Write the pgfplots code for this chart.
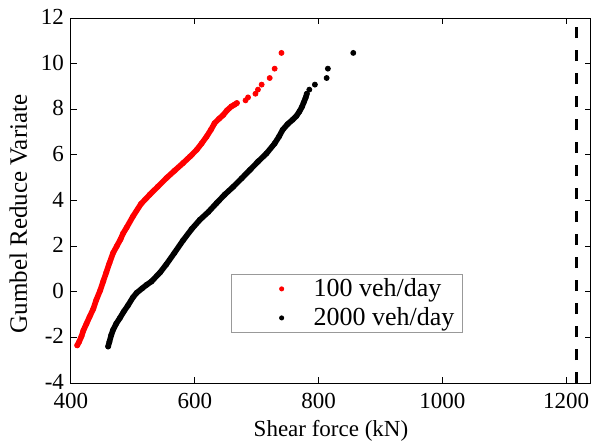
\documentclass[border=0pt]{standalone}
\usepackage{pgfplots}
\pgfplotsset{compat=1.18}
\usepackage{pgfplotstable}
\usepackage{fontspec}
\setmainfont{Liberation Serif}

% 100 veh/day, dense part of the curve
\pgfplotstableread{
x y
410 -2.35
413 -2.2
417 -1.95
420 -1.7
425 -1.4
430 -1.1
436 -0.75
441 -0.35
447 0.05
452 0.45
457 0.85
462 1.25
468 1.7
474 2.0
480 2.3
484 2.55
490 2.82
500 3.3
513 3.85
527 4.25
540 4.6
554 4.98
567 5.3
581 5.64
592 5.92
603 6.22
611 6.5
619 6.8
626 7.1
632 7.39
639 7.58
646 7.75
652 7.95
659 8.12
664 8.2
668 8.27
}\reddense
% 100 veh/day, isolated top points
\pgfplotstableread{
x y
682 8.39
686 8.52
698 8.68
702 8.86
708 9.08
721 9.37
729 9.78
740 10.47
}\redtail
% 2000 veh/day, dense part
\pgfplotstableread{
x y
460 -2.4
462 -2.2
465 -1.9
468 -1.67
473 -1.4
479 -1.15
485 -0.88
492 -0.6
500 -0.25
506 -0.05
515 0.15
522 0.3
530 0.45
544 0.85
554 1.2
567 1.7
581 2.25
595 2.75
608 3.15
622 3.5
635 3.88
648 4.25
662 4.6
676 4.98
689 5.34
702 5.7
716 6.07
729 6.5
736 6.8
742 7.1
750 7.35
758 7.54
764 7.7
769 7.9
773 8.1
776 8.3
779 8.5
781 8.68
}\blackdense
\pgfplotstableread{
x y
785 8.86
794 9.08
813 9.37
815 9.78
856 10.47
}\blacktail

\begin{document}
\begin{tikzpicture}
\begin{axis}[
  at={(0,0)}, anchor=south west,
  scale only axis, width=260pt, height=182.5pt,
  xmin=400, xmax=1240, ymin=-4, ymax=12,
  xtick={400,600,800,1000,1200}, ytick={-4,-2,0,2,4,6,8,10,12},
  tick align=inside, major tick length=3pt,
  tick style={black, line width=0.5pt},
  axis line style={line width=0.5pt},
  font=\fontsize{11.5}{13}\selectfont,
  /pgf/number format/1000 sep={},
  /pgf/number format/assume math mode=true,
  xticklabel style={yshift=-1.5pt},
  yticklabel style={yshift=0.5pt},
  xlabel={Shear force (kN)}, ylabel={Gumbel Reduce Variate},
  xlabel style={yshift=1pt},
  ylabel style={font=\fontsize{12.5}{14}\selectfont, at={(ticklabel cs:0.463)}},
  legend cell align=left,
  legend style={at={(0.308,0.299)}, anchor=north west, draw=gray!80,
    line width=0.5pt, fill=white, font=\fontsize{13}{15}\selectfont,
    inner xsep=2pt, inner ysep=0pt},
  legend image code/.code={%
    \path[draw=none, fill=none] (0pt,0pt) (37pt,0pt);
    \draw[#1, mark size=1pt] plot coordinates {(23pt,0pt)};},
]
\addplot[red, line width=2.8pt, line cap=round, line join=round, forget plot] table {\reddense};
\addplot[red, only marks, mark=*, mark size=1.25pt, forget plot] table {\reddense};
\addplot[red, only marks, mark=*, mark size=1.25pt] table {\redtail};
\addlegendentry{100 veh/day}
\addplot[black, line width=2.8pt, line cap=round, line join=round, forget plot] table {\blackdense};
\addplot[black, only marks, mark=*, mark size=1.25pt, forget plot] table {\blackdense};
\addplot[black, only marks, mark=*, mark size=1.25pt] table {\blacktail};
\addlegendentry{2000 veh/day}
\addplot[black, line width=1.5pt, dash pattern=on 5.5pt off 6pt, forget plot] coordinates {(1216,-4) (1216,12)};
\end{axis}
\pgfresetboundingbox
\path (-35.5pt,-32pt) rectangle (260pt,191.5pt);
\end{tikzpicture}
\end{document}
